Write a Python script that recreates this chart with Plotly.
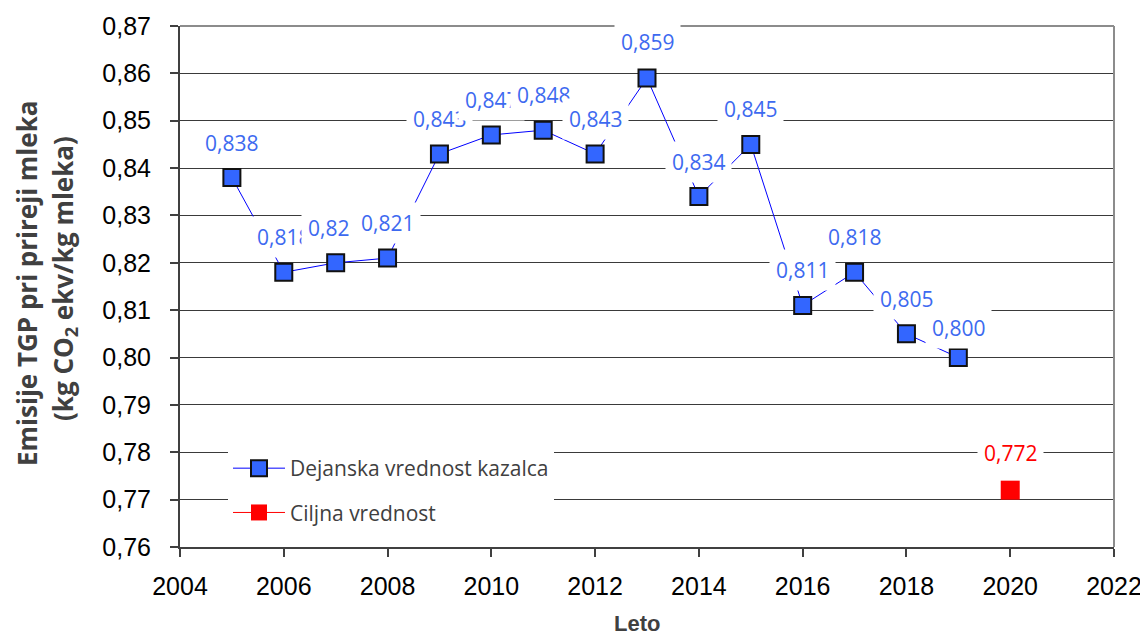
import plotly.graph_objects as go

# ---- data ----
years = [2005, 2006, 2007, 2008, 2009, 2010, 2011, 2012, 2013, 2014, 2015, 2016, 2017, 2018, 2019]
values = [0.838, 0.818, 0.820, 0.821, 0.843, 0.847, 0.848, 0.843, 0.859, 0.834, 0.845, 0.811, 0.818, 0.805, 0.800]
labels = ["0,838", "0,818", "0,82", "0,821", "0,843", "0,847", "0,848", "0,843", "0,859", "0,834",
          "0,845", "0,811", "0,818", "0,805", "0,800"]
target_years = [2020]
target_values = [0.772]
target_labels = ["0,772"]
series_names = ["Dejanska vrednost kazalca", "Ciljna vrednost"]
y_title_lines = ["Emisije TGP pri prireji mleka", "(kg CO<sub>2</sub> ekv/kg mleka)"]
x_title = "Leto"

BLUE_LABEL = "#3d6af0"
RED = "#ff0000"
LABEL_FONT = "Open Sans"

# plot area in page pixels (page has an 8px body margin)
PL, PR, PT, PB = 180, 1114, 26, 547
PW, PH = PR - PL, PB - PT


def px(xp):
    return (xp - PL) / PW


def py(yp):
    return (PB - yp) / PH


fig = go.Figure()
fig.add_trace(go.Scatter(
    x=years, y=values, mode="lines+markers", name=series_names[0], legendgroup="a",
    line=dict(color="#0000ff", width=1),
    marker=dict(symbol="square", size=17, color="#3366ff", line=dict(color="#111111", width=2)),
))
fig.add_trace(go.Scatter(
    x=target_years, y=target_values, mode="lines+markers", name=series_names[1], legendgroup="b",
    line=dict(color=RED, width=1),
    marker=dict(symbol="square", size=19, color=RED, line=dict(width=0)),
))

# data labels with white boxes (drawn in order so later ones overlap earlier)
nudge_x = {2007: -7}
nudge_y = {2019: -5, 2013: 1, 2020: 2}
for xv, yv, t in zip(years, values, labels):
    fig.add_annotation(x=xv, y=yv, text=t, showarrow=False,
                       xshift=nudge_x.get(xv, 0), yshift=35 + nudge_y.get(xv, 0),
                       bgcolor="white", borderpad=6,
                       font=dict(family=LABEL_FONT, size=21, color=BLUE_LABEL))
for xv, yv, t in zip(target_years, target_values, target_labels):
    fig.add_annotation(x=xv, y=yv, text=t, showarrow=False,
                       yshift=35 + nudge_y.get(xv, 0),
                       bgcolor="white", borderpad=6,
                       font=dict(family=LABEL_FONT, size=21, color=RED))

# y axis title (two lines)
fig.add_annotation(xref="paper", yref="paper", x=px(27), y=py(283),
                   text="<b>" + y_title_lines[0] + "</b>", textangle=-90, showarrow=False,
                   xanchor="center", yanchor="middle",
                   font=dict(family="Open Sans", size=26, color="#404040"))
fig.add_annotation(xref="paper", yref="paper", x=px(64), y=py(279),
                   text="<b>" + y_title_lines[1] + "</b>", textangle=-90, showarrow=False,
                   xanchor="center", yanchor="middle",
                   font=dict(family="Open Sans", size=26, color="#404040"))
# x axis title
fig.add_annotation(xref="paper", yref="paper", x=px(637), y=py(624),
                   text="<b>" + x_title + "</b>", showarrow=False,
                   xanchor="center", yanchor="middle",
                   font=dict(family="Liberation Sans, Arial", size=22, color="#404040"))

# gray frame on top and right
fig.add_shape(type="line", xref="paper", yref="paper", x0=0, x1=1, y0=1, y1=1,
              line=dict(color="#8c8c8c", width=2), layer="above")
fig.add_shape(type="line", xref="paper", yref="paper", x0=1, x1=1, y0=0, y1=1,
              line=dict(color="#8c8c8c", width=2), layer="above")

FW, FH = 1140, 631
fig.update_layout(
    width=FW, height=FH,
    margin=dict(l=PL - 8, r=FW - (PR - 8), t=PT - 8, b=FH - (PB - 8), autoexpand=False),
    paper_bgcolor="white", plot_bgcolor="white",
    separators=",.",
    showlegend=True,
    legend=dict(x=px(228), y=0.19, xanchor="left", yanchor="top",
                bgcolor="white", borderwidth=0, tracegroupgap=14, itemwidth=52,
                font=dict(family=LABEL_FONT, size=21, color="#404040")),
    xaxis=dict(range=[2004, 2022], tick0=2004, dtick=2, showgrid=False, zeroline=False,
               automargin=False,
               showline=True, linecolor="#404040", linewidth=2,
               ticks="outside", ticklen=8, tickcolor="#404040", tickwidth=1.5,
               ticklabelstandoff=8,
               tickfont=dict(family="Liberation Sans, Arial", size=25, color="black")),
    yaxis=dict(range=[0.76, 0.87], tick0=0.76, dtick=0.01, tickformat=".2f",
               automargin=False,
               showgrid=True, gridcolor="#3a3a3a", gridwidth=1, zeroline=False,
               showline=True, linecolor="#404040", linewidth=2,
               ticks="outside", ticklen=8, tickcolor="#404040", tickwidth=1.5,
               ticklabelstandoff=14,
               tickfont=dict(family="Liberation Sans, Arial", size=25, color="black")),
)

fig.write_html("out.html")
